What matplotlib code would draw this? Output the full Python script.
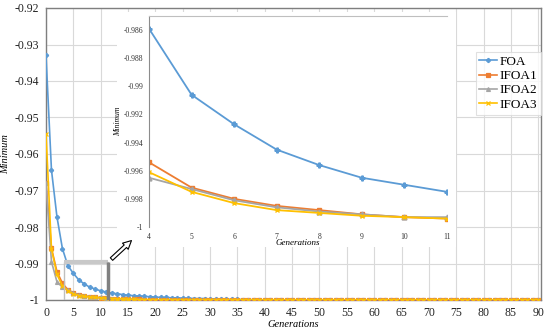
import matplotlib
matplotlib.use("Agg")
import matplotlib.pyplot as plt
from matplotlib.patches import Rectangle, FancyArrowPatch

# ── data ───────────────────────────────────────────────────────
GENS = list(range(0, 91))

FOA = [
    -0.9330, -0.9644, -0.9772, -0.9859, -0.9906, -0.9927, -0.9945, -0.9956, -0.9965, -0.9970,
    -0.9975, -0.9978, -0.9981, -0.9983, -0.9985, -0.9987, -0.9988, -0.9989, -0.9990, -0.9991,
    -0.9992, -0.9993, -0.9993, -0.9994, -0.9994, -0.9995, -0.9995, -0.9996, -0.9996, -0.9996,
    -0.9997, -0.9997, -0.9997, -0.9998, -0.9998, -0.9998, -0.9999, -0.9999, -0.9999, -0.9999,
    -1.0, -1.0, -1.0, -1.0, -1.0, -1.0, -1.0, -1.0, -1.0, -1.0,
    -1.0, -1.0, -1.0, -1.0, -1.0, -1.0, -1.0, -1.0, -1.0, -1.0,
    -1.0, -1.0, -1.0, -1.0, -1.0, -1.0, -1.0, -1.0, -1.0, -1.0,
    -1.0, -1.0, -1.0, -1.0, -1.0, -1.0, -1.0, -1.0, -1.0, -1.0,
    -1.0, -1.0, -1.0, -1.0, -1.0, -1.0, -1.0, -1.0, -1.0, -1.0,
    -1.0,
]
IFOA1 = [
    -0.9680, -0.9858, -0.9922, -0.9954, -0.9972, -0.9980, -0.9985, -0.9988, -0.9991, -0.9993,
    -0.9994, -0.9995, -0.9996, -0.9996, -0.9997, -0.9997, -0.9998, -0.9998, -0.9999, -0.9999,
    -1.0, -1.0, -1.0, -1.0, -1.0, -1.0, -1.0, -1.0, -1.0, -1.0,
    -1.0, -1.0, -1.0, -1.0, -1.0, -1.0, -1.0, -1.0, -1.0, -1.0,
    -1.0, -1.0, -1.0, -1.0, -1.0, -1.0, -1.0, -1.0, -1.0, -1.0,
    -1.0, -1.0, -1.0, -1.0, -1.0, -1.0, -1.0, -1.0, -1.0, -1.0,
    -1.0, -1.0, -1.0, -1.0, -1.0, -1.0, -1.0, -1.0, -1.0, -1.0,
    -1.0, -1.0, -1.0, -1.0, -1.0, -1.0, -1.0, -1.0, -1.0, -1.0,
    -1.0, -1.0, -1.0, -1.0, -1.0, -1.0, -1.0, -1.0, -1.0, -1.0,
    -1.0,
]
IFOA2 = [
    -0.9680, -0.9895, -0.9950, -0.9965, -0.9973, -0.9981, -0.9986, -0.9989, -0.9991, -0.9993,
    -0.9993, -0.9995, -0.9996, -0.9997, -0.9997, -0.9998, -0.9998, -0.9999, -0.9999, -1.0,
    -1.0, -1.0, -1.0, -1.0, -1.0, -1.0, -1.0, -1.0, -1.0, -1.0,
    -1.0, -1.0, -1.0, -1.0, -1.0, -1.0, -1.0, -1.0, -1.0, -1.0,
    -1.0, -1.0, -1.0, -1.0, -1.0, -1.0, -1.0, -1.0, -1.0, -1.0,
    -1.0, -1.0, -1.0, -1.0, -1.0, -1.0, -1.0, -1.0, -1.0, -1.0,
    -1.0, -1.0, -1.0, -1.0, -1.0, -1.0, -1.0, -1.0, -1.0, -1.0,
    -1.0, -1.0, -1.0, -1.0, -1.0, -1.0, -1.0, -1.0, -1.0, -1.0,
    -1.0, -1.0, -1.0, -1.0, -1.0, -1.0, -1.0, -1.0, -1.0, -1.0,
    -1.0,
]
IFOA3 = [
    -0.9545, -0.9860, -0.9930, -0.9961, -0.9975, -0.9983, -0.9988, -0.9990, -0.9992, -0.9993,
    -0.9994, -0.9995, -0.9996, -0.9997, -0.9997, -0.9998, -0.9998, -0.9999, -0.9999, -1.0,
    -1.0, -1.0, -1.0, -1.0, -1.0, -1.0, -1.0, -1.0, -1.0, -1.0,
    -1.0, -1.0, -1.0, -1.0, -1.0, -1.0, -1.0, -1.0, -1.0, -1.0,
    -1.0, -1.0, -1.0, -1.0, -1.0, -1.0, -1.0, -1.0, -1.0, -1.0,
    -1.0, -1.0, -1.0, -1.0, -1.0, -1.0, -1.0, -1.0, -1.0, -1.0,
    -1.0, -1.0, -1.0, -1.0, -1.0, -1.0, -1.0, -1.0, -1.0, -1.0,
    -1.0, -1.0, -1.0, -1.0, -1.0, -1.0, -1.0, -1.0, -1.0, -1.0,
    -1.0, -1.0, -1.0, -1.0, -1.0, -1.0, -1.0, -1.0, -1.0, -1.0,
    -1.0,
]

MAIN_XTICKS = list(range(0, 91, 5))
MAIN_YTICKS = [-1.0, -0.99, -0.98, -0.97, -0.96, -0.95, -0.94, -0.93, -0.92]
MAIN_YLABELS = ["-1", "-0.99", "-0.98", "-0.97", "-0.96", "-0.95", "-0.94", "-0.93", "-0.92"]

# inset shows generations 4..11 (series indices 3..10)
INSET_GENS = [4, 5, 6, 7, 8, 9, 10, 11]
INSET_SLICE = slice(3, 11)
INSET_YTICKS = [-1.0, -0.998, -0.996, -0.994, -0.992, -0.99, -0.988, -0.986]
INSET_YLABELS = ["-1", "-0.998", "-0.996", "-0.994", "-0.992", "-0.99", "-0.988", "-0.986"]

SERIES = [
    ("FOA", FOA, "#5B9BD5", "P"),
    ("IFOA1", IFOA1, "#ED7D31", "s"),
    ("IFOA2", IFOA2, "#A5A5A5", "^"),
    ("IFOA3", IFOA3, "#FFC000", "x"),
]

SERIF = ["Liberation Serif", "DejaVu Serif"]
plt.rcParams["font.family"] = SERIF

fig = plt.figure(figsize=(5.5, 3.33), dpi=100)

# ── main axes ────────────────────────────────────────────────
ax = fig.add_axes([46 / 550, 1 - 300 / 333, 495 / 550, 292 / 333])
for name, vals, col, mk in SERIES:
    ax.plot(GENS, vals, color=col, lw=1.2, marker=mk, ms=2.8, mew=0.9,
            label=name, zorder=3)
ax.set_xlim(0, 90.5)
ax.set_ylim(-1.0, -0.92)
ax.set_xticks(MAIN_XTICKS)
ax.set_yticks(MAIN_YTICKS)
ax.set_yticklabels(MAIN_YLABELS)
ax.tick_params(length=0, labelsize=8.5, colors="#222222", pad=5)
ax.grid(True, color="#D9D9D9", lw=0.8)
ax.set_axisbelow(True)
for s in ax.spines.values():
    s.set_color("#7F7F7F")
    s.set_linewidth(1.0)
ax.set_xlabel("Generations", fontsize=7.5, style="italic", labelpad=1)
ax.set_ylabel("Minimum", fontsize=7.5, style="italic", labelpad=3)

leg = ax.legend(loc="upper right", bbox_to_anchor=(1.0, 0.85), fontsize=9.5,
                frameon=True, fancybox=False, handlelength=1.3,
                handletextpad=0.2, borderpad=0.3, labelspacing=0.15,
                borderaxespad=0.0)
leg.get_frame().set_edgecolor("#D9D9D9")
leg.get_frame().set_linewidth(0.8)

# zoom region marker on main chart
ax.add_patch(Rectangle((3.3, -1.0), 8.0, 0.0103, fill=False,
                       ec="#BFBFBF", lw=1.0, zorder=4))
ax.plot([3.3, 11.3], [-0.9897, -0.9897], color="#C8C8C8", lw=3.0, zorder=4,
        solid_capstyle="butt")
ax.plot([11.3, 11.3], [-1.0, -0.9897], color="#808080", lw=2.5, zorder=4,
        solid_capstyle="butt")

# white backdrop behind the inset
fig.add_artist(Rectangle((117 / 550, 1 - 247 / 333), 339 / 550, 235 / 333,
                         transform=fig.transFigure, fc="white", ec="none",
                         zorder=0.5))

# ── inset axes ───────────────────────────────────────────────
ins = fig.add_axes([149 / 550, 1 - 227 / 333, 298 / 550, 211 / 333], zorder=1)
ins.patch.set_alpha(0)
for name, vals, col, mk in SERIES:
    ins.plot(INSET_GENS, vals[INSET_SLICE], color=col, lw=1.3, marker=mk,
             ms=3.5, mew=1.0)
ins.set_xlim(4, 11)
ins.set_ylim(-1.0, -0.985)
ins.set_xticks(INSET_GENS)
ins.set_yticks(INSET_YTICKS)
ins.set_yticklabels(INSET_YLABELS)
ins.tick_params(length=0, labelsize=5.5, colors="#333333", pad=4)
ins.spines["right"].set_visible(False)
ins.spines["bottom"].set_visible(False)
ins.spines["left"].set_color("#8C8C8C")
ins.spines["top"].set_color("#BFBFBF")
ins.set_xlabel("Generations", fontsize=6.5, style="italic", labelpad=-1)
ins.set_ylabel("Minimum", fontsize=5.5, style="italic", labelpad=1)

# hollow arrow from the zoom box to the inset
fig.add_artist(FancyArrowPatch((11.6, -0.9893), (16.0, -0.9832),
                               transform=ax.transData,
                               arrowstyle="simple,head_width=6,head_length=6,tail_width=2.5",
                               fc="white", ec="black", lw=0.8, zorder=5))

fig.savefig("out.png", dpi=100)
